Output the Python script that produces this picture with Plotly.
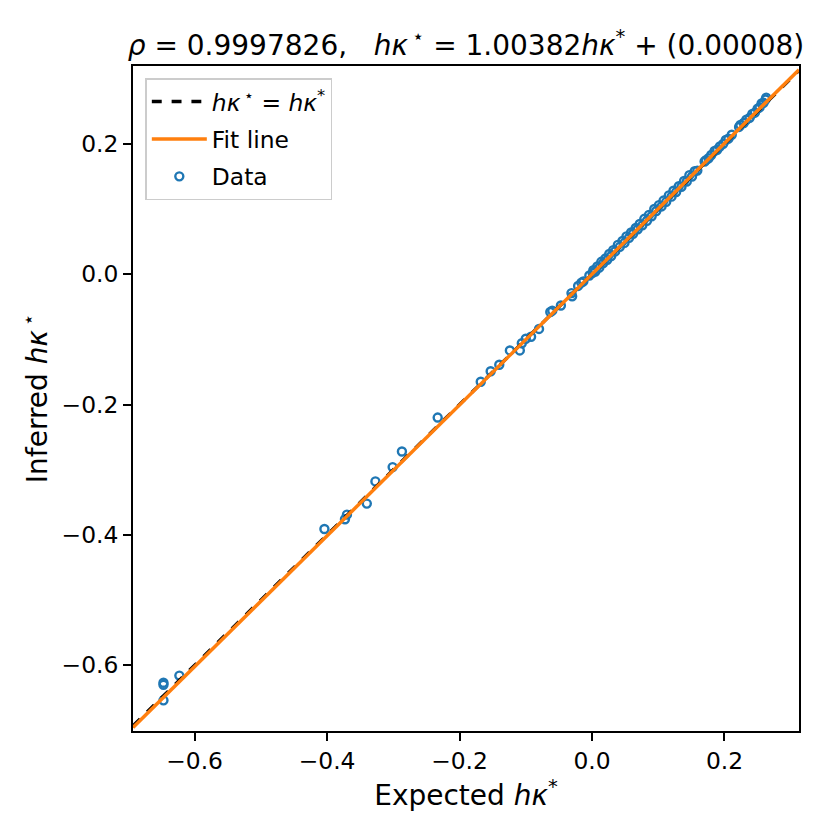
import plotly.graph_objects as go

# expected vs inferred values
expected = [
    -0.647, -0.647, -0.647, -0.623, -0.404, -0.373, -0.370, -0.340, -0.327, -0.301, -0.287,
    -0.233, -0.168, -0.153, -0.140, -0.124, -0.109, -0.106, -0.100, -0.092, -0.080,
    -0.063, -0.060, -0.047, -0.031, -0.030, -0.021, -0.016, -0.013, -0.004, 0.001,
    0.002, 0.005, 0.008, 0.011, 0.014, 0.017, 0.020, 0.023, 0.026, 0.029,
    0.032, 0.035, 0.039, 0.042, 0.046, 0.049, 0.052, 0.056, 0.059, 0.062,
    0.066, 0.069, 0.072, 0.076, 0.079, 0.083, 0.086, 0.090, 0.094, 0.097,
    0.101, 0.105, 0.108, 0.112, 0.116, 0.120, 0.123, 0.127, 0.131, 0.135,
    0.139, 0.143, 0.147, 0.151, 0.155, 0.159, 0.170, 0.172, 0.176, 0.180,
    0.185, 0.189, 0.193, 0.198, 0.202, 0.206, 0.211, 0.222, 0.224, 0.229,
    0.233, 0.238, 0.242, 0.246, 0.250, 0.253, 0.256, 0.259, 0.262, 0.263,
]
inferred = [
    -0.627, -0.630, -0.654, -0.616, -0.391, -0.376, -0.369, -0.352, -0.318, -0.296, -0.272,
    -0.220, -0.165, -0.149, -0.139, -0.117, -0.117, -0.106, -0.099, -0.096, -0.084,
    -0.058, -0.056, -0.048, -0.029, -0.034, -0.018, -0.013, -0.011, -0.002, 0.002,
    0.006, 0.004, 0.012, 0.010, 0.019, 0.017, 0.024, 0.022, 0.031, 0.028,
    0.037, 0.035, 0.045, 0.042, 0.051, 0.048, 0.058, 0.056, 0.064, 0.062,
    0.071, 0.069, 0.077, 0.075, 0.085, 0.082, 0.091, 0.089, 0.100, 0.097,
    0.106, 0.104, 0.113, 0.111, 0.121, 0.119, 0.128, 0.126, 0.135, 0.134,
    0.143, 0.142, 0.152, 0.150, 0.158, 0.159, 0.173, 0.175, 0.178, 0.183,
    0.189, 0.191, 0.196, 0.200, 0.206, 0.208, 0.214, 0.226, 0.229, 0.232,
    0.237, 0.240, 0.246, 0.248, 0.254, 0.256, 0.262, 0.263, 0.268, 0.271,
]

slope = 1.00382
intercept = 0.00008
x_lims = [-0.693, 0.3125]
y_lims = [-0.701, 0.3195]
tick_vals = [-0.6, -0.4, -0.2, 0.0, 0.2]

HK = "<i>hκ</i>"
STAR = "<sup>\u2009⋆</sup>"
AST = "<sup>*</sup>"
FS = 23.4  # 10pt at the reference's dpi

fig = go.Figure()

fig.add_trace(go.Scatter(
    x=expected, y=inferred, mode="markers", name="Data", legendrank=3, legendgroup="c",
    marker=dict(symbol="circle-open", size=8, color="#1f77b4",
                line=dict(width=2.4, color="#1f77b4")),
))
fig.add_trace(go.Scatter(
    x=x_lims, y=x_lims, mode="lines", name=f"{HK}{STAR} = {HK}{AST}",
    legendrank=1, legendgroup="a",
    line=dict(color="black", width=3.3, dash="dash"),
))
fig.add_trace(go.Scatter(
    x=x_lims, y=[slope * v + intercept for v in x_lims], mode="lines",
    name="Fit line", legendrank=2, legendgroup="b",
    line=dict(color="#ff7f0e", width=3.5),
))

axis_style = dict(
    tickvals=tick_vals, tickformat=".1f", ticks="outside", ticklen=8, tickwidth=1.8,
    tickcolor="black", showline=True, linecolor="black", linewidth=1.9, mirror=True,
    showgrid=False, zeroline=False, tickfont=dict(size=FS, color="black"),
)

fig.update_layout(
    width=832, height=822,
    margin=dict(l=125, r=41, t=58, b=99),
    paper_bgcolor="white", plot_bgcolor="white",
    font=dict(family="DejaVu Sans", size=FS, color="black"),
    title=dict(
        text=f"<i>ρ</i> = 0.9997826,&nbsp;&nbsp;&nbsp;{HK}{STAR} = 1.00382{HK}{AST} + (0.00008)",
        x=0.5, xref="paper", xanchor="center", y=1 - 37 / 822, yanchor="middle",
        font=dict(size=28),
    ),
    xaxis=dict(range=x_lims, title=dict(text=f"Expected {HK}{AST}", standoff=8), **axis_style),
    yaxis=dict(range=y_lims, title=dict(text=f"Inferred {HK}{STAR}", standoff=6), **axis_style),
    legend=dict(
        x=0.0185, y=0.9815, xanchor="left", yanchor="top",
        bgcolor="rgba(255,255,255,0.8)", bordercolor="#cccccc", borderwidth=1.5,
        font=dict(size=FS), traceorder="grouped", tracegroupgap=4, itemwidth=55,
    ),
)

fig.write_html("out.html")
